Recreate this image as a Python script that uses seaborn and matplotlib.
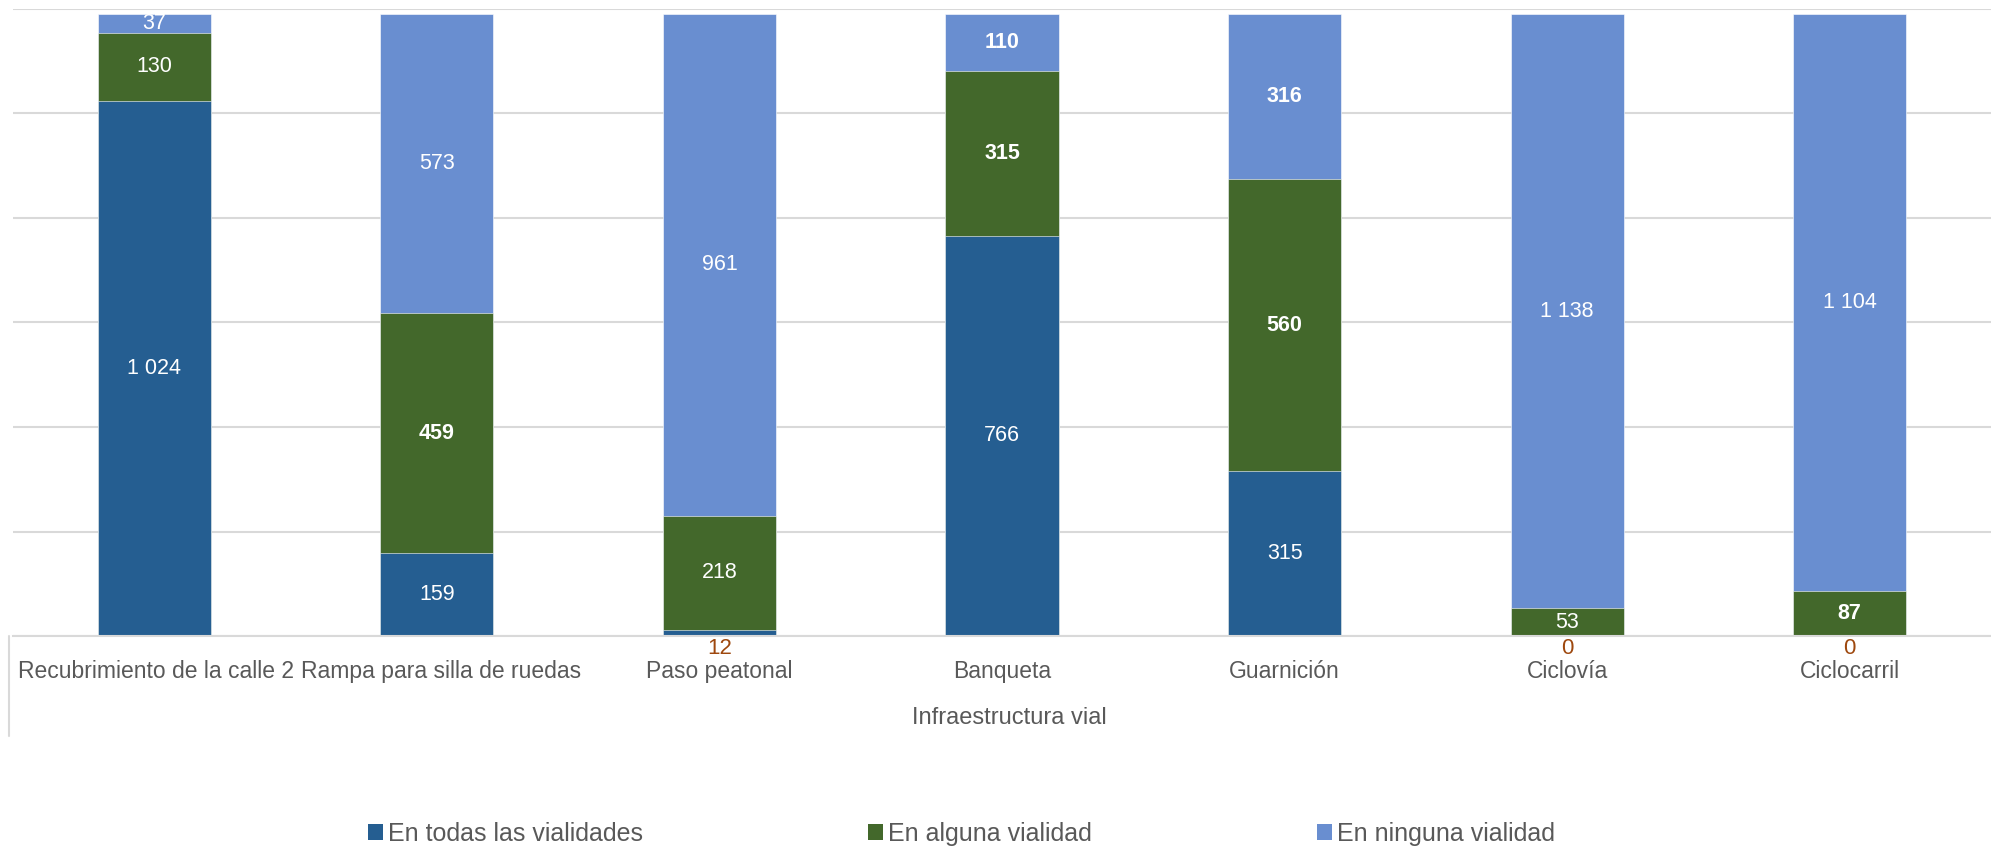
import numpy as np
import pandas as pd
import seaborn as sns
import matplotlib.pyplot as plt
import matplotlib.transforms as mtransforms
from matplotlib.patches import Patch
from matplotlib.lines import Line2D

# ---------------- Data ----------------
categories = ["Recubrimiento de la calle 2", "Rampa para silla de ruedas", "Paso peatonal",
              "Banqueta", "Guarnición", "Ciclovía", "Ciclocarril"]
todas = [1024, 159, 12, 766, 315, 0, 0]
alguna = [130, 459, 218, 315, 560, 53, 87]
ninguna = [37, 573, 961, 110, 316, 1138, 1104]
series_names = ["En todas las vialidades", "En alguna vialidad", "En ninguna vialidad"]
x_title = "Infraestructura vial"

colors = ["#255E91", "#43682B", "#698ED0"]
grid_c = "#D9D9D9"
text_c = "#595959"
small_c = "#9E480E"

df = pd.DataFrame({"cat": categories, "todas": todas, "alguna": alguna, "ninguna": ninguna})
df["c1"] = df["todas"]
df["c2"] = df["c1"] + df["alguna"]
df["c3"] = df["c2"] + df["ninguna"]

# ---------------- Style ----------------
sns.set_theme(style="white")
plt.rcParams["font.family"] = ["Liberation Sans", "DejaVu Sans"]

fig = plt.figure(figsize=(19.91, 8.49), dpi=100)
ax = fig.add_axes([13 / 1991, 1 - 636 / 849, 1 - 13 / 1991, (636 - 9) / 849])

# stacked bars: draw cumulative totals, tallest first
for col, c in zip(["c3", "c2", "c1"], colors[::-1]):
    sns.barplot(data=df, x="cat", y=col, color=c, saturation=1, width=0.4,
                edgecolor="white", linewidth=0.4, ax=ax, errorbar=None)

ax.set_ylim(0, 1200)
ax.set_yticks(np.arange(0, 1201, 200))
ax.set_yticklabels([])
ax.tick_params(axis="y", length=0)
ax.yaxis.grid(True, color=grid_c, linewidth=1.5)
ax.set_axisbelow(True)
for s in ["left", "right", "top"]:
    ax.spines[s].set_visible(False)
ax.spines["bottom"].set_color(grid_c)
ax.spines["bottom"].set_linewidth(1.5)
ax.set_xlim(-0.5, len(categories) - 0.5)

# ---------------- Data labels ----------------
bold_vals = {(1, 1), (3, 1), (4, 1), (6, 1), (3, 2), (4, 2)}
for i in range(len(categories)):
    bottoms = [0, df["c1"][i], df["c2"][i]]
    vals = [todas[i], alguna[i], ninguna[i]]
    for j, (b, v) in enumerate(zip(bottoms, vals)):
        if v < 30:
            ax.annotate(f"{v:,}".replace(",", " "), xy=(i, 0), xytext=(0, -9),
                        textcoords="offset points", ha="center", va="center",
                        color=small_c, fontsize=16, annotation_clip=False)
        else:
            ax.text(i, b + v / 2, f"{v:,}".replace(",", " "), ha="center", va="center",
                    color="white", fontsize=15.5,
                    fontweight="bold" if (i, j) in bold_vals else "normal")

# ---------------- X axis ----------------
ax.set_xticks(range(len(categories)))
ax.set_xticklabels(categories, fontsize=16.5, color=text_c)
ax.tick_params(axis="x", length=0, pad=17)
ax.set_xlabel("")
ax.set_ylabel("")
# first two labels run to the left as in the original chart
for lab in ax.get_xticklabels()[:2]:
    lab.set_ha("left")
    lab.set_transform(lab.get_transform() + mtransforms.ScaledTranslation(-136 / 100, 0, fig.dpi_scale_trans))

fig.text(0.507, 1 - 718 / 849, x_title, ha="center", va="center", fontsize=17, color=text_c)
fig.add_artist(Line2D([9 / 1991] * 2, [1 - 636 / 849, 1 - 736 / 849], color=grid_c, linewidth=1.5))

# ---------------- Legend ----------------
handles = [Patch(facecolor=c, edgecolor="none") for c in colors]
fig.legend(handles, series_names, loc="center", bbox_to_anchor=(0.483, 1 - 834 / 849), ncol=3,
           frameon=False, fontsize=18, handlelength=0.6, handleheight=0.6, handletextpad=0.2,
           columnspacing=9.0, labelcolor=text_c)

fig.savefig("out.png", dpi=100)
